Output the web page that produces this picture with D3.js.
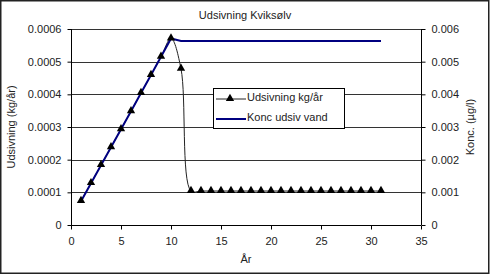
<!DOCTYPE html>
<html><head><meta charset="utf-8">
<script src="https://cdn.jsdelivr.net/npm/d3@7"></script>
<style>body{margin:0;background:#fff}svg{display:block;font-family:"Liberation Sans",Arial,sans-serif}</style>
</head><body><svg id="c" width="490" height="275"></svg>
<script>
const years = [1,2,3,4,5,6,7,8,9,10,11,12,13,14,15,16,17,18,19,20,21,22,23,24,25,26,27,28,29,30,31];
const udsivning = [0.000073,0.000128,0.000183,0.000238,0.000293,0.000348,0.000404,0.000459,0.000515,0.000571,0.000478,0.000104,0.000104,0.000104,0.000104,0.000104,0.000104,0.000104,0.000104,0.000104,0.000104,0.000104,0.000104,0.000104,0.000104,0.000104,0.000104,0.000104,0.000104,0.000104,0.000104];
const konc = [0.00073,0.00128,0.00183,0.00238,0.00293,0.00348,0.00404,0.00459,0.00515,0.00571,0.00563,0.00563,0.00563,0.00563,0.00563,0.00563,0.00563,0.00563,0.00563,0.00563,0.00563,0.00563,0.00563,0.00563,0.00563,0.00563,0.00563,0.00563,0.00563,0.00563,0.00563];
const xTicks = [0,5,10,15,20,25,30,35];
const yLeftTicks = [0,0.0001,0.0002,0.0003,0.0004,0.0005,0.0006];
const yRightTicks = [0,0.001,0.002,0.003,0.004,0.005,0.006];
const title = "Udsivning Kviksølv";
const xTitle = "År";
const yLeftTitle = "Udsivning (kg/år)";
const yRightTitle = "Konc. (µg/l)";
const legendLabels = ["Udsivning kg/år","Konc udsiv vand"];

const svg = d3.select("#c");
const L=71, R=421, T=29, B=225;
const x = d3.scaleLinear().domain([0,35]).range([L,R]);
const yL = d3.scaleLinear().domain([0,0.0006]).range([B,T]);
const yR = d3.scaleLinear().domain([0,0.006]).range([B,T]);

svg.append("rect").attr("x",0.75).attr("y",0.75).attr("width",488).attr("height",272.5)
  .attr("fill","#fff").attr("stroke","#222").attr("stroke-width",1.5);

// gridlines
svg.append("g").selectAll("line").data(yLeftTicks.slice(1)).join("line")
  .attr("x1",L).attr("x2",R).attr("y1",d=>Math.round(yL(d))+0.5).attr("y2",d=>Math.round(yL(d))+0.5)
  .attr("stroke","#333").attr("stroke-width",1);

const fmtL = d=> d===0?"0":d.toFixed(4);
const fmtR = d=> d===0?"0":d.toFixed(3);

const gL = svg.append("g").attr("transform",`translate(${L+0.5},0)`)
  .call(d3.axisLeft(yL).tickValues(yLeftTicks).tickFormat(fmtL).tickSize(4).tickPadding(6));
const gR = svg.append("g").attr("transform",`translate(${R+0.5},0)`)
  .call(d3.axisRight(yR).tickValues(yRightTicks).tickFormat(fmtR).tickSize(4).tickPadding(6));
const gX = svg.append("g").attr("transform",`translate(0,${B+0.5})`)
  .call(d3.axisBottom(x).tickValues(xTicks).tickFormat(d3.format("d")).tickSize(4).tickPadding(8));
[gL,gR,gX].forEach(g=>{
  g.selectAll("path").attr("stroke","#000");
  g.selectAll("line").attr("stroke","#000");
  g.selectAll("text").attr("font-size",11).attr("fill","#222").attr("font-family","Liberation Sans, Arial, sans-serif");
});
gL.select(".domain").attr("d",`M0,${T}V${B}`);
gR.select(".domain").attr("d",`M0,${T}V${B}`);
gX.select(".domain").attr("d",`M${L},0H${R}`);

// series
const lineU = d3.line().x((d,i)=>x(years[i])).y(d=>yL(d)).curve(d3.curveCatmullRom.alpha(0.5));
svg.append("path").datum(udsivning).attr("d",lineU).attr("fill","none").attr("stroke","#222").attr("stroke-width",1);
const lineK = d3.line().x((d,i)=>x(years[i])).y(d=>yR(d));
svg.append("path").datum(konc).attr("d",lineK).attr("fill","none").attr("stroke","#000080").attr("stroke-width",2);

const tri = d3.symbol().type(d3.symbolTriangle).size(30);
svg.append("g").selectAll("path").data(udsivning).join("path")
  .attr("d",tri).attr("transform",(d,i)=>`translate(${x(years[i])},${yL(d)-0.5})`).attr("fill","#000");

// titles
svg.append("text").attr("x",245).attr("y",19).attr("text-anchor","middle").attr("font-size",11).attr("fill","#222").text(title);
svg.append("text").attr("x",246).attr("y",263).attr("text-anchor","middle").attr("font-size",11).attr("fill","#222").text(xTitle);
svg.append("text").attr("transform",`translate(15,${(T+B)/2}) rotate(-90)`).attr("text-anchor","middle").attr("font-size",11).attr("fill","#222").text(yLeftTitle);
svg.append("text").attr("transform",`translate(474,${(T+B)/2}) rotate(-90)`).attr("text-anchor","middle").attr("font-size",11).attr("fill","#222").text(yRightTitle);

// legend
const lg = svg.append("g");
lg.append("rect").attr("x",213.5).attr("y",88.5).attr("width",131).attr("height",40).attr("fill","#fff").attr("stroke","#000").attr("stroke-width",1);
lg.append("line").attr("x1",216).attr("x2",246).attr("y1",99).attr("y2",99).attr("stroke","#222");
lg.append("path").attr("d",tri).attr("transform","translate(230,98.5)").attr("fill","#000");
lg.append("line").attr("x1",216).attr("x2",246).attr("y1",119).attr("y2",119).attr("stroke","#000080").attr("stroke-width",2);
lg.append("text").attr("x",247).attr("y",101).attr("font-size",11).attr("fill","#222").text(legendLabels[0]);
lg.append("text").attr("x",247).attr("y",121).attr("font-size",11).attr("fill","#222").text(legendLabels[1]);
</script></body></html>
